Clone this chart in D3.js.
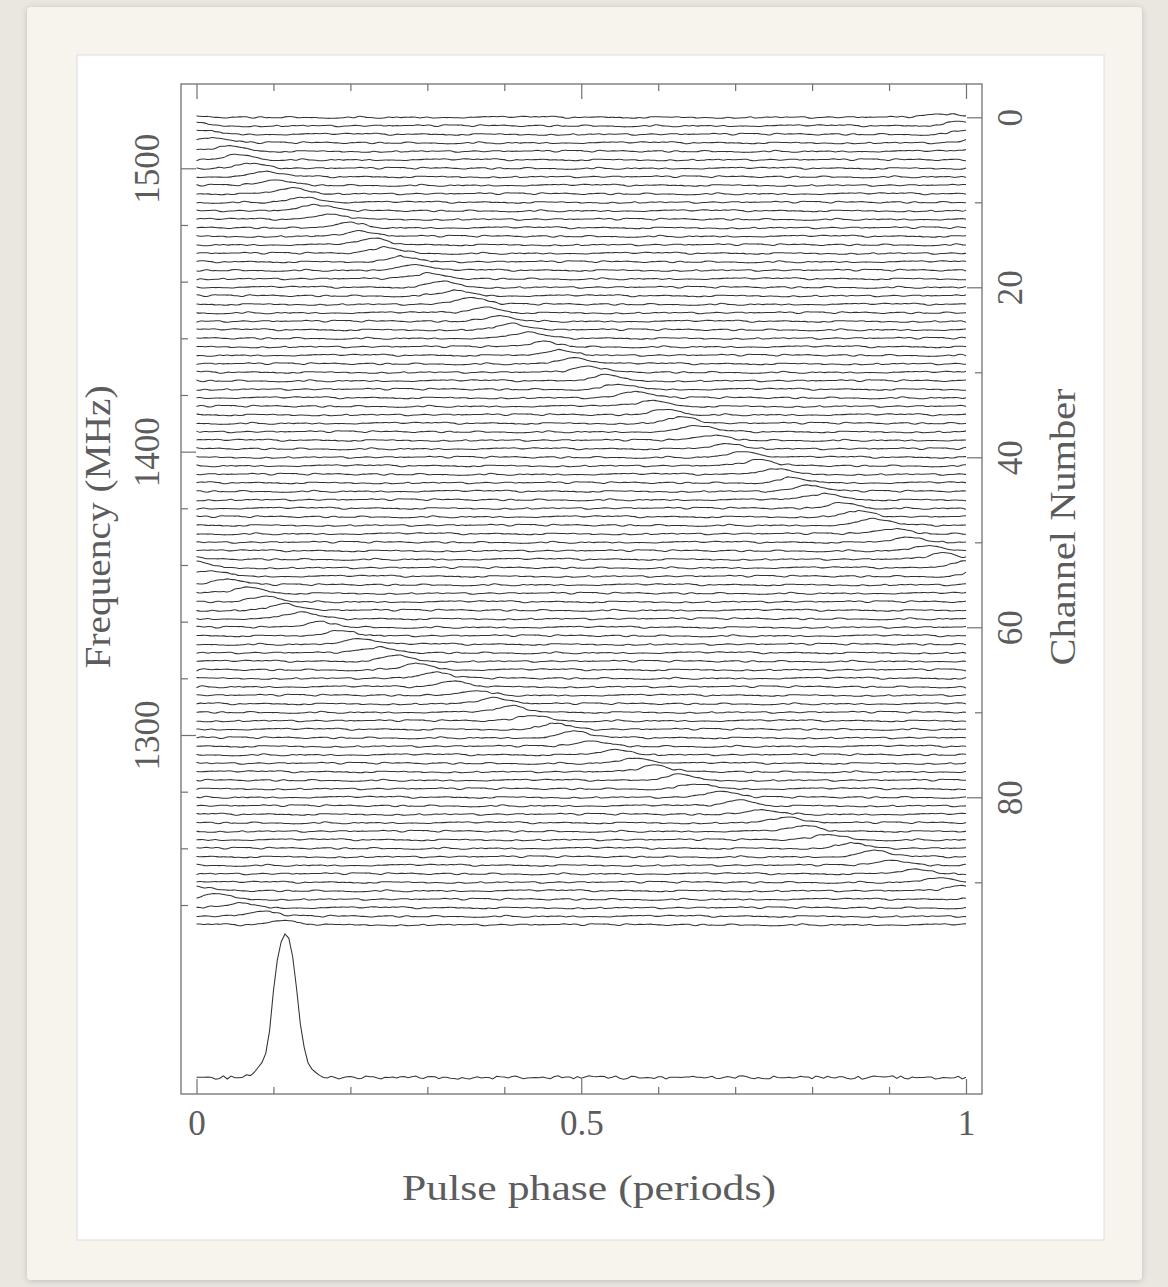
<!DOCTYPE html>
<html lang="en">
<head>
<meta charset="UTF-8">
<title>Pulse phase vs frequency</title>
<script src="https://d3js.org/d3.v7.min.js"></script>
<style>
  body { margin: 0; background: #e9e7e0; }
  svg { display: block; }
  text { font-family: "Liberation Serif", "DejaVu Serif", serif; fill: #5c5c5c; }
  .axis path.domain { display: none; }
  .axis line { stroke: #707070; stroke-width: 1.2px; }
</style>
</head>
<body>
<svg id="chart" width="1168" height="1287"></svg>
<script>
// pulse phase of the peak in each channel (channel 0 = top, 96 channels)
const peakPhase = [
  0.972, 0.989, 0.005, 0.022, 0.038, 0.055, 0.072, 0.089, 0.106, 0.123,
  0.140, 0.157, 0.175, 0.193, 0.210, 0.228, 0.246, 0.264, 0.282, 0.300,
  0.319, 0.337, 0.356, 0.374, 0.393, 0.412, 0.431, 0.450, 0.469, 0.489,
  0.508, 0.528, 0.548, 0.568, 0.588, 0.608, 0.628, 0.648, 0.669, 0.690,
  0.710, 0.731, 0.752, 0.774, 0.795, 0.816, 0.838, 0.860, 0.882, 0.904,
  0.926, 0.948, 0.971, 0.993, 0.019, 0.042, 0.065, 0.089, 0.113, 0.137,
  0.161, 0.185, 0.210, 0.234, 0.260, 0.284, 0.309, 0.335, 0.360, 0.386,
  0.411, 0.437, 0.464, 0.489, 0.516, 0.543, 0.569, 0.597, 0.624, 0.652,
  0.679, 0.707, 0.735, 0.763, 0.792, 0.820, 0.848, 0.878, 0.907, 0.937,
  0.966, 0.995, 0.026, 0.056, 0.087, 0.117
];
// relative pulse strength per channel
const peakAmp = [
  0.55, 0.7, 0.8, 0.85, 0.95, 0.9, 0.85, 0.8, 0.9, 1.1,
  0.9, 1.0, 0.95, 1.0, 0.9, 1.0, 1.05, 0.95, 1.0, 0.9,
  1.0, 0.95, 1.1, 0.9, 1.0, 1.05, 0.95, 0.9, 1.0, 1.1,
  0.95, 1.0, 0.9, 1.05, 1.0, 0.95, 1.1, 1.0, 0.9, 1.0,
  1.05, 0.95, 1.0, 0.9, 1.0, 1.1, 0.95, 1.0, 1.05, 0.9,
  1.0, 0.95, 1.0, 1.1, 1.0, 0.95, 1.05, 1.0, 1.1, 1.05,
  0.95, 1.0, 1.05, 0.9, 1.0, 1.1, 0.95, 1.0, 0.9, 1.05,
  1.0, 0.95, 1.0, 1.05, 0.9, 1.0, 0.95, 1.05, 1.0, 0.9,
  1.0, 0.95, 0.9, 1.0, 0.85, 0.95, 0.9, 1.0, 0.85, 0.9,
  0.85, 0.8, 0.9, 0.85, 0.8, 0.75
];
// summed pulse shape, bins of 0.005 period from -0.06 to +0.06
const pulseShape = [
  0, 0.005, 0.01, 0.02, 0.04, 0.07, 0.11, 0.18, 0.32, 0.60, 0.82, 0.95, 1.0,
  0.96, 0.84, 0.62, 0.37, 0.20, 0.11, 0.06, 0.035, 0.02, 0.01, 0.005, 0
];
// single-channel pulse shape (smeared within the channel), same bins
const chanShape = [
  0, 0.02, 0.04, 0.07, 0.11, 0.17, 0.25, 0.36, 0.50, 0.66, 0.81, 0.94, 1.0,
  0.96, 0.86, 0.72, 0.56, 0.41, 0.28, 0.18, 0.11, 0.06, 0.03, 0.01, 0
];
// baseline noise (tenths)
const noise = [
  3,-2,5,0,-4,1,-6,2,7,-1, -3,4,-5,0,2,-7,6,1,-2,-4,
  3,5,-1,0,-6,2,4,-3,1,-5, 6,-2,0,3,-4,-1,5,2,-7,1,
  4,-3,0,-2,6,-5,3,1,-1,-4, 2,7,-6,0,3,-2,-5,4,1,-3,
  5,0,-1,2,-6,3,-4,6,1,-2, 0,4,-7,2,-1,5,-3,3,0,-5,
  1,6,-2,-4,2,0,3,-6,4,-1, -3,5,1,-2,7,-5,0,2,-4,3,
  -1,6,-3,1,0,-6,4,2,-2,5, -5,1,3,-4,0,-1,6,-3,2,4,
  -7,1,-2,3,0,5,-4,-1,2,-6, 6,-3,1,0,-2,4,-5,3,-1,7,
  -4,0,2,-3,5,-6,1,-1,3,-2, 4,0,-5,6,-4,2,1,-3,0,-6,
  5,3,-1,-2,4,-7,2,0,6,-3, 1,-4,5,-2,-1,3,0,-5,2,7,
  -6,1,-3,4,-1,0,2,-4,6,-2, 3,-5,1,0,-3,5,-1,4,-6,2
];
const profilePeakBin = 23;   // summed profile peaks at phase 0.115
const nBins = 200;

const phaseTicks = [0, 0.1, 0.2, 0.3, 0.4, 0.5, 0.6, 0.7, 0.8, 0.9, 1];
const phaseMajor = [0, 0.5, 1];
const phaseLabels = ["0", "0.5", "1"];
const channelMajor = [0, 20, 40, 60, 80];
const channelMinor = [10, 30, 50, 70, 90];
const freqMajor = [1500, 1400, 1300];
const freqMinor = [1480, 1460, 1440, 1420, 1380, 1360, 1340, 1320, 1280, 1260, 1240];

const svg = d3.select("#chart");

// card + white panel
const defs = svg.append("defs");
const f = defs.append("filter").attr("id", "shadow").attr("x", "-5%").attr("y", "-5%").attr("width", "110%").attr("height", "110%");
f.append("feDropShadow").attr("dx", 0).attr("dy", 1).attr("stdDeviation", 3).attr("flood-color", "#000").attr("flood-opacity", 0.18);

svg.append("rect").attr("x", 27).attr("y", 7).attr("width", 1115).attr("height", 1273)
   .attr("rx", 4).attr("fill", "#f6f4ed").attr("filter", "url(#shadow)");
svg.append("rect").attr("x", 77).attr("y", 55).attr("width", 1027).attr("height", 1185)
   .attr("fill", "#fff").attr("stroke", "#dcdcdc").attr("stroke-width", 1);

const frameL = 181, frameR = 982, frameT = 84, frameB = 1094;

const x = d3.scaleLinear().domain([0, 1]).range([196.5, 966]);
const chanY = d3.scaleLinear().domain([0, 95]).range([117.3, 924.8]);
const freqY = d3.scaleLinear().domain([1500, 1300]).range([168.3, 735]);
const ampY = d3.scaleLinear().domain([0, 1]).range([0, 6]);
const profY = d3.scaleLinear().domain([0, 1]).range([1077.5, 934]);

function shapeAt(shape, bin, peakBin) {
  let d = ((bin - peakBin) % nBins + nBins) % nBins;
  if (d >= nBins / 2) d -= nBins;
  const k = d + 12;
  return (k >= 0 && k < shape.length) ? shape[k] : 0;
}

const bins = d3.range(nBins + 1);
const chanLine = d3.line().x(d => x(d.p)).y(d => d.y).curve(d3.curveBasis);
const profLine = d3.line().x(d => x(d.p)).y(d => d.y);

const traces = svg.append("g").attr("fill", "none").attr("stroke", "#333").attr("stroke-width", 1.05);

peakPhase.forEach((ph, ch) => {
  const pb = Math.round(ph * nBins);
  const pts = bins.map(i => {
    const b = i % nBins;
    const n = noise[(7 * b + 61 * ch) % noise.length] * 0.03;
    const v = peakAmp[ch] * shapeAt(chanShape, b, pb) + n;
    return {p: i / nBins, y: chanY(ch) - ampY(v)};
  });
  traces.append("path").attr("d", chanLine(pts));
});

// summed profile
const prof = bins.map(i => {
  const b = i % nBins;
  const n = noise[(11 * b + 17) % noise.length] * 0.0017;
  return {p: i / nBins, y: profY(shapeAt(pulseShape, b, profilePeakBin) + n)};
});
traces.append("path").attr("d", profLine(prof));

// frame
svg.append("rect").attr("x", frameL).attr("y", frameT).attr("width", frameR - frameL).attr("height", frameB - frameT)
   .attr("fill", "none").attr("stroke", "#707070").attr("stroke-width", 1.3);

// top/bottom phase axes
const minorPhase = phaseTicks.filter(t => !phaseMajor.includes(t));
svg.append("g").attr("class", "axis").attr("transform", `translate(0,${frameT})`)
   .call(d3.axisTop(x).tickValues(phaseMajor).tickSize(-15).tickFormat(""));
svg.append("g").attr("class", "axis").attr("transform", `translate(0,${frameT})`)
   .call(d3.axisTop(x).tickValues(minorPhase).tickSize(-7).tickFormat(""));
svg.append("g").attr("class", "axis").attr("transform", `translate(0,${frameB})`)
   .call(d3.axisBottom(x).tickValues(minorPhase).tickSize(-7).tickFormat(""));
const xb = svg.append("g").attr("class", "axis").attr("transform", `translate(0,${frameB})`)
   .call(d3.axisBottom(x).tickValues(phaseMajor).tickSize(-15).tickPadding(0)
     .tickFormat((d, i) => phaseLabels[i]));
xb.selectAll("text").attr("y", 41).attr("dy", 0).style("font-size", "35px").attr("fill", "#5c5c5c");

// left frequency axis
svg.append("g").attr("class", "axis").attr("transform", `translate(${frameL},0)`)
   .call(d3.axisLeft(freqY).tickValues(freqMinor).tickSize(-7).tickFormat(""));
const yl = svg.append("g").attr("class", "axis").attr("transform", `translate(${frameL},0)`)
   .call(d3.axisLeft(freqY).tickValues(freqMajor).tickSize(-15).tickFormat(d3.format("d")));
yl.selectAll("text").attr("x", 0).attr("dy", 0).attr("text-anchor", "middle")
  .attr("transform", "translate(-22,0) rotate(-90)").style("font-size", "35px").attr("fill", "#5c5c5c");

// right channel axis
svg.append("g").attr("class", "axis").attr("transform", `translate(${frameR},0)`)
   .call(d3.axisRight(chanY).tickValues(channelMinor).tickSize(-7).tickFormat(""));
const yr = svg.append("g").attr("class", "axis").attr("transform", `translate(${frameR},0)`)
   .call(d3.axisRight(chanY).tickValues(channelMajor).tickSize(-15).tickFormat(d3.format("d")));
yr.selectAll("text").attr("x", 0).attr("dy", 0).attr("text-anchor", "middle")
  .attr("transform", "translate(40,0) rotate(-90)").style("font-size", "35px").attr("fill", "#5c5c5c");

// axis titles
svg.append("text").attr("x", 589).attr("y", 1200).attr("text-anchor", "middle")
   .style("font-size", "35px").attr("textLength", 374).attr("lengthAdjust", "spacingAndGlyphs")
   .text("Pulse phase (periods)");
svg.append("text").attr("transform", "translate(110,527) rotate(-90)").attr("text-anchor", "middle")
   .style("font-size", "35px").attr("textLength", 283).attr("lengthAdjust", "spacingAndGlyphs")
   .text("Frequency (MHz)");
svg.append("text").attr("transform", "translate(1075,527) rotate(-90)").attr("text-anchor", "middle")
   .style("font-size", "35px").attr("textLength", 277).attr("lengthAdjust", "spacingAndGlyphs")
   .text("Channel Number");
</script>
</body>
</html>
